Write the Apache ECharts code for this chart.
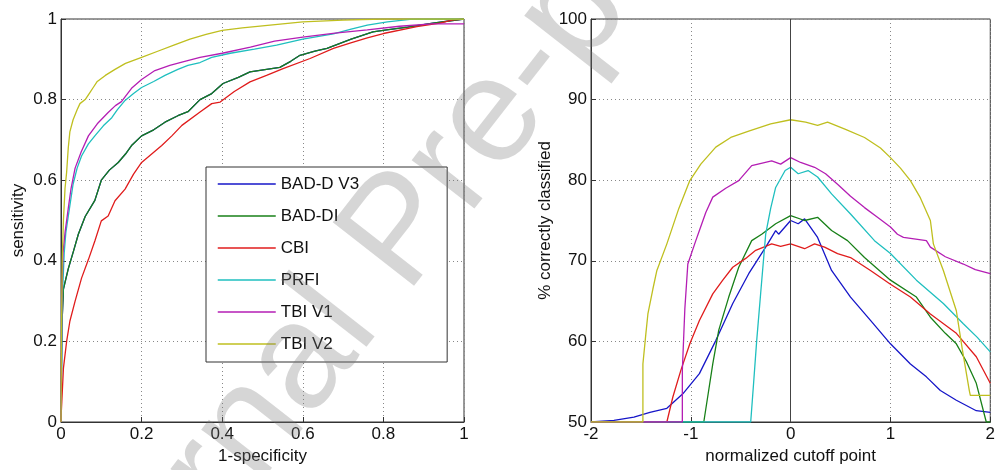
<!DOCTYPE html>
<html>
<head>
<meta charset="utf-8">
<script src="https://cdn.jsdelivr.net/npm/echarts@6/dist/echarts.min.js"></script>
<style>
html,body{margin:0;padding:0;background:#fff;}
#chart{width:998px;height:470px;}
</style>
</head>
<body>
<div id="chart"></div>
<script>
// ---------- DATA ----------
var seriesNames = ['BAD-D V3', 'BAD-DI', 'CBI', 'PRFI', 'TBI V1', 'TBI V2'];
var seriesColors = ['#1616c8', '#188018', '#e01c1c', '#1fbfbf', '#b41eb4', '#bfbf1f'];

var rocXTicks = [0, 0.2, 0.4, 0.6, 0.8, 1];
var rocYTicks = [0, 0.2, 0.4, 0.6, 0.8, 1];
var cutXTicks = [-2, -1, 0, 1, 2];
var cutYTicks = [50, 60, 70, 80, 90, 100];

// ROC curves: [1-specificity, sensitivity]
var rocBadDV3 = [[0,0],[0.001,0.1],[0.002,0.233],[0.006,0.33],[0.018,0.38],[0.031,0.424],[0.043,0.466],[0.06,0.51],[0.084,0.55],[0.1,0.6],[0.12,0.625],[0.142,0.644],[0.16,0.665],[0.175,0.686],[0.2,0.71],[0.23,0.725],[0.258,0.744],[0.29,0.76],[0.315,0.77],[0.345,0.8],[0.374,0.815],[0.402,0.84],[0.44,0.855],[0.469,0.869],[0.543,0.88],[0.57,0.895],[0.593,0.91],[0.63,0.92],[0.66,0.927],[0.72,0.95],[0.774,0.968],[0.808,0.973],[0.86,0.98],[0.923,0.99],[1,1]];
var rocBadDI = [[0,0],[0.001,0.1],[0.002,0.233],[0.006,0.33],[0.018,0.38],[0.031,0.424],[0.043,0.466],[0.06,0.51],[0.084,0.55],[0.1,0.6],[0.12,0.625],[0.142,0.644],[0.16,0.665],[0.175,0.686],[0.2,0.71],[0.23,0.725],[0.258,0.744],[0.29,0.76],[0.315,0.77],[0.345,0.8],[0.374,0.815],[0.402,0.84],[0.44,0.855],[0.469,0.869],[0.543,0.88],[0.57,0.895],[0.593,0.91],[0.63,0.92],[0.66,0.927],[0.72,0.95],[0.774,0.968],[0.808,0.973],[0.86,0.98],[0.923,0.99],[1,1]];
var rocCBI = [[0,0],[0.001,0.03],[0.002,0.05],[0.006,0.133],[0.014,0.2],[0.022,0.25],[0.035,0.3],[0.051,0.357],[0.068,0.403],[0.084,0.449],[0.1,0.499],[0.117,0.511],[0.134,0.549],[0.159,0.578],[0.18,0.615],[0.2,0.644],[0.225,0.665],[0.25,0.686],[0.275,0.71],[0.3,0.736],[0.345,0.769],[0.374,0.79],[0.395,0.794],[0.43,0.82],[0.469,0.844],[0.51,0.86],[0.551,0.877],[0.618,0.902],[0.676,0.927],[0.717,0.94],[0.76,0.953],[0.8,0.964],[0.883,0.981],[0.94,0.99],[0.973,0.998],[1,1]];
var rocPRFI = [[0,0],[0.003,0.3],[0.008,0.42],[0.012,0.47],[0.018,0.51],[0.03,0.59],[0.04,0.63],[0.051,0.66],[0.068,0.69],[0.084,0.71],[0.105,0.735],[0.126,0.755],[0.14,0.775],[0.159,0.798],[0.18,0.815],[0.2,0.83],[0.23,0.845],[0.258,0.86],[0.29,0.875],[0.315,0.885],[0.345,0.892],[0.374,0.905],[0.42,0.915],[0.48,0.925],[0.535,0.935],[0.6,0.95],[0.676,0.963],[0.72,0.975],[0.76,0.985],[0.81,0.993],[0.866,0.999],[1,1]];
var rocTBIV1 = [[0,0],[0.002,0.3],[0.005,0.42],[0.01,0.47],[0.018,0.53],[0.025,0.58],[0.035,0.63],[0.05,0.67],[0.068,0.71],[0.09,0.74],[0.117,0.768],[0.135,0.785],[0.15,0.795],[0.175,0.828],[0.2,0.85],[0.233,0.872],[0.27,0.885],[0.3,0.893],[0.345,0.905],[0.4,0.915],[0.47,0.93],[0.53,0.945],[0.6,0.955],[0.68,0.965],[0.76,0.973],[0.84,0.982],[0.92,0.988],[1,0.988]];
var rocTBIV2 = [[0,0],[0.001,0.2],[0.003,0.4],[0.006,0.5],[0.01,0.58],[0.014,0.62],[0.018,0.68],[0.022,0.72],[0.03,0.75],[0.04,0.775],[0.047,0.79],[0.06,0.8],[0.07,0.815],[0.08,0.83],[0.09,0.845],[0.11,0.86],[0.134,0.875],[0.16,0.89],[0.2,0.905],[0.24,0.92],[0.28,0.935],[0.32,0.95],[0.36,0.962],[0.4,0.972],[0.45,0.978],[0.5,0.983],[0.55,0.988],[0.6,0.993],[0.7,0.997],[0.8,1],[1,1]];

// % correctly classified vs normalized cutoff point: [cutoff, percent]
var cutBadDV3 = [[-2,50],[-1.77,50.2],[-1.57,50.6],[-1.41,51.2],[-1.24,51.7],[-1.08,53.5],[-0.914,56],[-0.75,60.1],[-0.58,64.7],[-0.42,68.4],[-0.25,71.7],[-0.15,73.75],[-0.12,73.3],[0,75],[0.076,74.6],[0.14,75.2],[0.27,72.9],[0.41,68.8],[0.6,65.5],[0.8,62.6],[1.0,59.7],[1.2,57.2],[1.36,55.6],[1.5,53.9],[1.66,52.7],[1.86,51.4],[2,51.2]];
var cutBadDI = [[-2,50],[-0.87,50],[-0.82,54],[-0.78,57.2],[-0.72,61.4],[-0.62,65.5],[-0.52,69.2],[-0.39,72.5],[-0.29,73.3],[-0.15,74.6],[0,75.6],[0.14,75],[0.27,75.4],[0.41,73.75],[0.57,72.5],[0.74,70.4],[1.0,67.6],[1.26,65.5],[1.4,63],[1.55,61],[1.66,59.7],[1.76,57.5],[1.86,54.8],[1.96,50],[2,50]];
var cutCBI = [[-2,50],[-1.24,50],[-1.18,53.1],[-1.1,56.4],[-1.01,59.7],[-0.914,62.6],[-0.78,65.9],[-0.68,67.6],[-0.58,69.2],[-0.45,70.3],[-0.35,71.3],[-0.19,72.1],[-0.1,71.8],[0,72.1],[0.14,71.5],[0.24,72.1],[0.34,71.7],[0.47,70.9],[0.6,70.4],[0.8,68.8],[1.0,67.1],[1.2,65.5],[1.4,63.4],[1.66,61],[1.86,58.1],[2,54.8]];
var cutPRFI = [[-2,50],[-0.4,50],[-0.37,55],[-0.34,60.1],[-0.3,66],[-0.25,73.3],[-0.2,76.5],[-0.15,79.1],[-0.055,81.2],[0,81.6],[0.076,80.8],[0.175,81.2],[0.27,80.4],[0.41,78.3],[0.6,75.8],[0.84,72.5],[1.0,70.9],[1.26,67.6],[1.53,64.7],[1.73,62.2],[1.87,60.5],[2,58.7]];
var cutTBIV1 = [[-2,50],[-1.085,50],[-1.085,56.4],[-1.06,64],[-1.03,69.6],[-0.95,72.5],[-0.914,73.75],[-0.85,76],[-0.78,77.9],[-0.65,79],[-0.52,79.95],[-0.39,81.8],[-0.19,82.4],[-0.1,82],[0,82.8],[0.1,82.2],[0.24,81.6],[0.35,80.8],[0.47,79.5],[0.6,78],[0.74,76.6],[0.87,75.4],[1.0,74.2],[1.07,73.3],[1.13,72.9],[1.36,72.5],[1.4,71.7],[1.55,70.5],[1.73,69.6],[1.85,68.9],[2,68.4]];
var cutTBIV2 = [[-2,50],[-1.48,50],[-1.48,57.2],[-1.45,61],[-1.43,63.4],[-1.38,66.5],[-1.34,68.8],[-1.24,72.1],[-1.12,76.5],[-1.01,79.95],[-0.9,82],[-0.75,84.1],[-0.6,85.3],[-0.42,86.1],[-0.2,87],[0,87.5],[0.15,87.2],[0.27,86.8],[0.37,87.2],[0.55,86.3],[0.74,85.3],[0.9,84],[1.0,82.8],[1.1,81.5],[1.2,79.95],[1.3,77.8],[1.4,75],[1.43,72.1],[1.53,68.8],[1.66,63.8],[1.72,59],[1.79,53.9],[1.8,53.3],[2,53.3]];

var zeroCutoff = 0;
var watermarkText = 'Journal Pre-proof';

// ---------- CHART ----------
var FONT = 'Liberation Sans, Arial, sans-serif';
var rocData = [rocBadDV3, rocBadDI, rocCBI, rocPRFI, rocTBIV1, rocTBIV2];
var cutData = [cutBadDV3, cutBadDI, cutCBI, cutPRFI, cutTBIV1, cutTBIV2];

function axisCommon(ticks) {
  return {
    type: 'value',
    min: ticks[0],
    max: ticks[ticks.length - 1],
    interval: ticks[1] - ticks[0],
    axisLine: { show: true, onZero: false, lineStyle: { color: '#333', width: 1 } },
    axisTick: { show: true, inside: true, length: 5, lineStyle: { color: '#333' } },
    axisLabel: { color: '#111', fontSize: 17, fontFamily: FONT, margin: 4 },
    splitLine: { show: true, lineStyle: { color: '#888', width: 1, type: [1, 3] } },
    nameTextStyle: { color: '#111', fontSize: 17, fontFamily: FONT }
  };
}

var xAxes = [
  Object.assign(axisCommon(rocXTicks), { gridIndex: 0, name: '1-specificity', nameLocation: 'middle', nameGap: 22 }),
  Object.assign(axisCommon(cutXTicks), { gridIndex: 1, name: 'normalized cutoff point', nameLocation: 'middle', nameGap: 22 })
];
var yAxes = [
  Object.assign(axisCommon(rocYTicks), { gridIndex: 0, name: 'sensitivity', nameLocation: 'middle', nameGap: 34 }),
  Object.assign(axisCommon(cutYTicks), { gridIndex: 1, name: '% correctly classified', nameLocation: 'middle', nameGap: 37 })
];

var series = [];
seriesNames.forEach(function (n, i) {
  series.push({
    name: n, type: 'line', xAxisIndex: 0, yAxisIndex: 0,
    data: rocData[i], symbol: 'none', showSymbol: false, animation: false,
    lineStyle: { color: seriesColors[i], width: 1.3 }, itemStyle: { color: seriesColors[i] }
  });
});
seriesNames.forEach(function (n, i) {
  var s = {
    name: n, type: 'line', xAxisIndex: 1, yAxisIndex: 1,
    data: cutData[i], symbol: 'none', showSymbol: false, animation: false,
    lineStyle: { color: seriesColors[i], width: 1.3 }, itemStyle: { color: seriesColors[i] }
  };
  if (i === 0) {
    s.markLine = {
      silent: true, symbol: ['none', 'none'], animation: false,
      label: { show: false },
      lineStyle: { color: '#444', type: 'solid', width: 1 },
      data: [{ xAxis: zeroCutoff }]
    };
  }
  series.push(s);
});

var chart = echarts.init(document.getElementById('chart'), null, { renderer: 'canvas' });
chart.setOption({
  backgroundColor: '#fff',
  animation: false,
  textStyle: { fontFamily: FONT },
  grid: [
    { left: 61, right: 534, top: 19, bottom: 48, show: true, borderColor: '#333', borderWidth: 1 },
    { left: 591, right: 3, top: 19, bottom: 48, show: true, borderColor: '#333', borderWidth: 1 }
  ],
  xAxis: xAxes,
  yAxis: yAxes,
  legend: {
    data: seriesNames,
    orient: 'vertical',
    left: 206, top: 167,
    itemWidth: 58, itemHeight: 18, itemGap: 14,
    padding: [8, 88, 9, 11],
    backgroundColor: '#fff',
    borderColor: '#333', borderWidth: 1, borderRadius: 0,
    itemStyle: { opacity: 0, borderWidth: 0 },
    lineStyle: { width: 1.5, opacity: 1 },
    textStyle: { color: '#111', fontSize: 17, fontFamily: FONT, lineHeight: 18 },
    selectedMode: false
  },
  graphic: [{
    type: 'text',
    x: 402, y: 234,
    rotation: 52 * Math.PI / 180,
    z: 100,
    silent: true,
    style: {
      text: watermarkText,
      fontSize: 150,
      fontFamily: FONT,
      fill: 'rgba(120,120,120,0.3)',
      align: 'center',
      verticalAlign: 'middle'
    }
  }],
  series: series
});
</script>
</body>
</html>
